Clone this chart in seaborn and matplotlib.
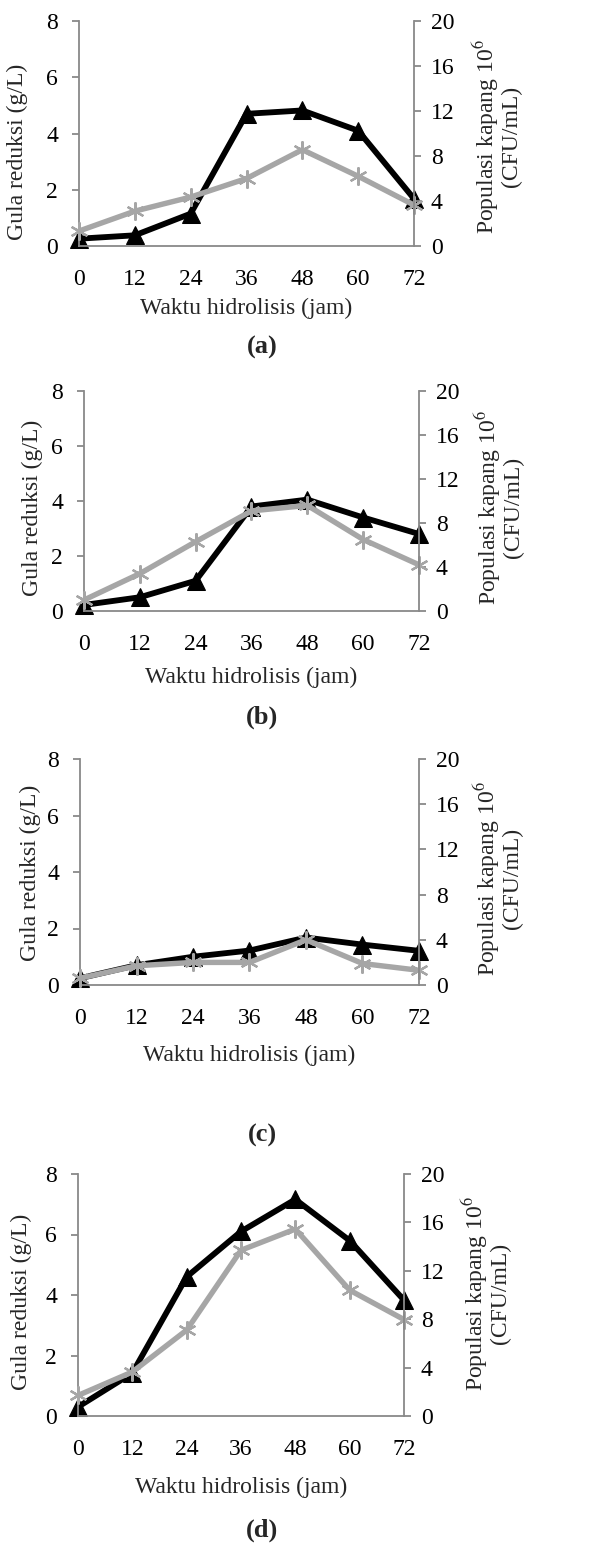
import matplotlib
matplotlib.use('Agg')
import matplotlib.pyplot as plt
import seaborn as sns

sns.set_style('white')
plt.rcParams['font.family'] = ['Liberation Serif', 'DejaVu Serif']
plt.rcParams['mathtext.fontset'] = 'stix'

# waktu hidrolisis (jam)
hours = [0, 12, 24, 36, 48, 60, 72]

# gula reduksi (g/L) - sumbu kiri
gula_a = [0.26, 0.38, 1.15, 4.70, 4.82, 4.10, 1.68]
gula_b = [0.22, 0.50, 1.10, 3.80, 4.05, 3.40, 2.80]
gula_c = [0.24, 0.70, 1.00, 1.22, 1.68, 1.43, 1.21]
gula_d = [0.30, 1.42, 4.60, 6.10, 7.16, 5.80, 3.83]

# populasi kapang 10^6 (CFU/mL) - sumbu kanan
populasi_a = [1.33, 3.10, 4.35, 6.00, 8.56, 6.20, 3.64]
populasi_b = [1.00, 3.40, 6.30, 9.10, 9.60, 6.50, 4.20]
populasi_c = [0.60, 1.70, 2.00, 2.00, 4.00, 1.90, 1.30]
populasi_d = [1.70, 3.64, 7.10, 13.70, 15.45, 10.40, 7.97]

panel_labels = ['(a)', '(b)', '(c)', '(d)']
left_ticks = [0, 2, 4, 6, 8]
right_ticks = [0, 4, 8, 12, 16, 20]

W, H = 595, 1549
fig = plt.figure(figsize=(W / 100, H / 100), dpi=100)

# kotak plot tiap panel dalam piksel: kiri, kanan, atas, bawah
boxes = [(79, 414, 21, 246), (84, 419, 391, 611), (80, 419, 759, 985), (78, 404, 1174, 1416)]
xlabel_y = [308, 677, 1055, 1487]
letter_y = [347, 717, 1135, 1530]
# posisi tengah label sumbu y (piksel)
left_lab = [(17, 152), (32, 508), (30, 873), (21, 1302)]
right_lab = [(496, 136), (498, 507), (497, 878), (485, 1293)]

grey_axis = '#898989'
grey_line = '#A6A6A6'
fs = 17

data = [(gula_a, populasi_a), (gula_b, populasi_b), (gula_c, populasi_c), (gula_d, populasi_d)]

for i, (gula, pop) in enumerate(data):
    l, r, t, b = boxes[i]
    ax = fig.add_axes([l / W, 1 - b / H, (r - l) / W, (b - t) / H])
    sns.lineplot(x=hours, y=gula, ax=ax, color='black', linewidth=4.2,
                 marker='^', markersize=13, markeredgecolor='black', clip_on=False)
    ax.set_xlim(0, 72)
    ax.set_ylim(0, 8)
    ax.set_xticks(hours)
    ax.set_yticks(left_ticks)
    for s in ['top', 'right']:
        ax.spines[s].set_visible(False)
    for s in ['left', 'bottom']:
        ax.spines[s].set_color(grey_axis)
        ax.spines[s].set_linewidth(1.3)
    ax.tick_params(axis='both', direction='out', width=1.3, color=grey_axis,
                   labelsize=fs, labelcolor='black')
    ax.tick_params(axis='x', length=6.5, pad=10)
    ax.tick_params(axis='y', length=5, pad=10)

    ax2 = ax.twinx()
    sns.lineplot(x=hours, y=pop, ax=ax2, color=grey_line, linewidth=3.9,
                 marker=(6, 2, 0), markersize=13, markeredgewidth=1.6,
                 markeredgecolor=grey_line, clip_on=False)
    ax2.set_ylim(0, 20)
    ax2.set_yticks(right_ticks)
    for s in ['top', 'left', 'bottom']:
        ax2.spines[s].set_visible(False)
    ax2.spines['right'].set_color(grey_axis)
    ax2.spines['right'].set_linewidth(1.3)
    ax2.tick_params(axis='y', direction='out', length=5, width=1.3, color=grey_axis,
                    labelsize=fs, labelcolor='black', pad=7)

    fig.text(left_lab[i][0] / W, 1 - left_lab[i][1] / H, 'Gula reduksi (g/L)',
             rotation=90, ha='center', va='center', fontsize=fs)
    fig.text(right_lab[i][0] / W, 1 - right_lab[i][1] / H,
             'Populasi kapang 10$^{6}$\n(CFU/mL)', rotation=90, ha='center',
             va='center', fontsize=fs, linespacing=1.0)
    fig.text((l + r) / 2 / W, 1 - xlabel_y[i] / H, 'Waktu hidrolisis (jam)',
             ha='center', va='center', fontsize=fs)
    fig.text(262 / W, 1 - letter_y[i] / H, panel_labels[i],
             ha='center', va='center', fontsize=19, fontweight='bold')

fig.savefig('out.png', dpi=100)
